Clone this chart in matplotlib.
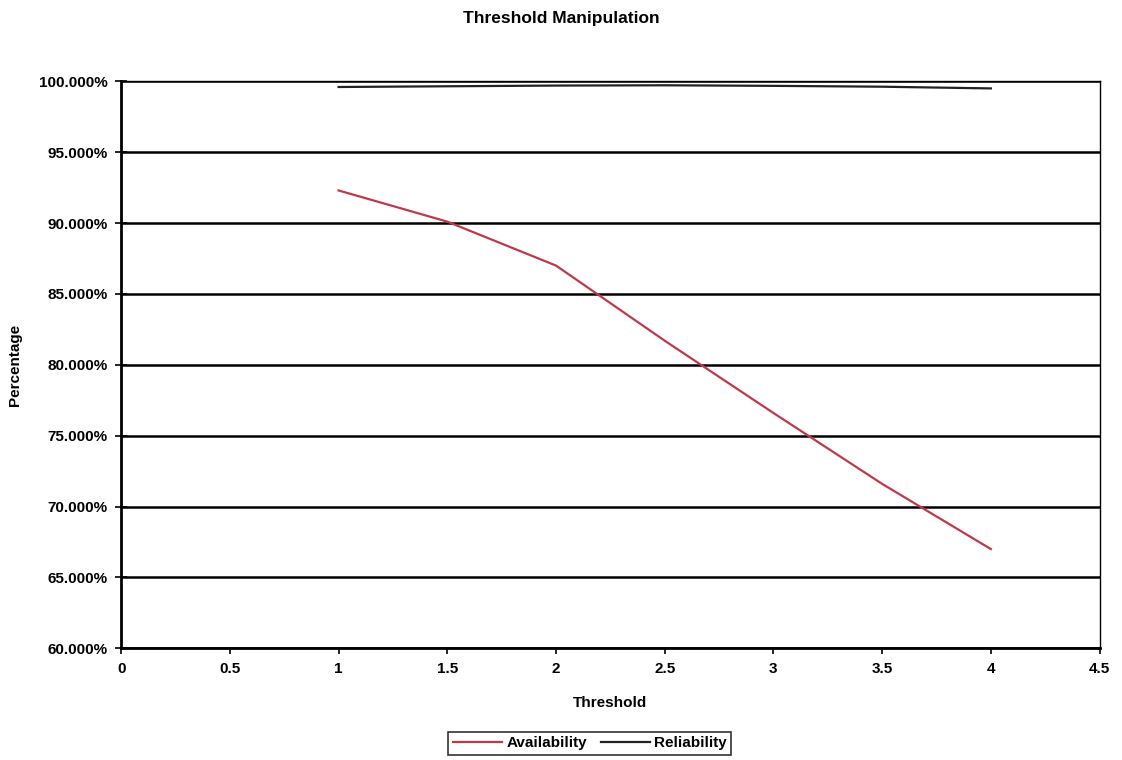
import matplotlib
matplotlib.use("Agg")
import matplotlib.pyplot as plt
from matplotlib.ticker import FuncFormatter

# values
thresholds = [1, 1.5, 2, 2.5, 3, 3.5, 4]
availability = [92.3, 90.1, 87.0, 81.7, 76.6, 71.6, 67.0]
reliability = [99.6, 99.65, 99.7, 99.72, 99.68, 99.62, 99.5]
x_ticks = [0, 0.5, 1, 1.5, 2, 2.5, 3, 3.5, 4, 4.5]
y_ticks = [60, 65, 70, 75, 80, 85, 90, 95, 100]


def main():
    plt.rcParams["font.family"] = ["Liberation Sans", "DejaVu Sans"]
    plt.rcParams["font.weight"] = "bold"

    fig = plt.figure(figsize=(11.22, 7.6), dpi=100)
    axe = fig.add_axes([0.108, 0.147, 0.872, 0.746])

    for y in y_ticks:
        axe.axhline(y, color="black", linewidth=1.8, zorder=1)

    axe.plot(thresholds, availability, color="#c0394b", linewidth=1.6,
             label="Availability", zorder=3)
    axe.plot(thresholds, reliability, color="#222222", linewidth=1.6,
             label="Reliability", zorder=3)

    axe.set_xlim(0, 4.5)
    axe.set_ylim(60, 100)
    axe.set_xticks(x_ticks)
    axe.set_xticklabels([("%g" % t) for t in x_ticks])
    axe.set_yticks(y_ticks)
    axe.yaxis.set_major_formatter(FuncFormatter(lambda v, p: "%.3f%%" % v))
    axe.tick_params(axis="both", labelsize=11, length=4, width=1.2,
                    direction="out", pad=6)
    axe.tick_params(axis="y", direction="inout", length=8)

    for side in ["left", "bottom"]:
        axe.spines[side].set_linewidth(2)
    for side in ["top", "right"]:
        axe.spines[side].set_linewidth(1)

    axe.set_xlabel("Threshold", fontsize=11, fontweight="bold", labelpad=14)
    axe.set_ylabel("Percentage", fontsize=11, fontweight="bold", labelpad=12)
    fig.suptitle("Threshold Manipulation", fontsize=12.5, fontweight="bold",
                 y=0.985)

    leg = axe.legend(loc="upper center", bbox_to_anchor=(0.479, -0.134),
                     ncol=2, fontsize=11, frameon=True, fancybox=False,
                     handlelength=3.2, handletextpad=0.3, columnspacing=0.9,
                     borderpad=0.3)
    leg.get_frame().set_edgecolor("black")
    leg.get_frame().set_linewidth(1.2)

    fig.savefig("out.png", dpi=100)


if __name__ == "__main__":
    main()
